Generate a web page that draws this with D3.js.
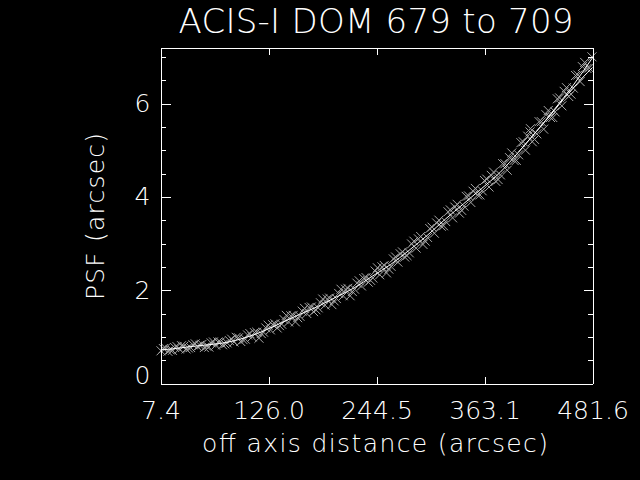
<!DOCTYPE html>
<html><head><meta charset="utf-8">
<script src="https://cdn.jsdelivr.net/npm/d3@7"></script>
<style>html,body{margin:0;padding:0;background:#000;} svg{display:block;}</style>
</head><body>
<script>
// ---- data ----
const titleText = "ACIS-I DOM 679 to 709";
const xLabel = "off axis distance (arcsec)";
const yLabel = "PSF (arcsec)";
const xTicks = [7.4, 126.0, 244.5, 363.1, 481.6];
const yTicks = [0, 2, 4, 6];
const yMinor = [0.5, 1, 1.5, 2.5, 3, 3.5, 4.5, 5, 5.5, 6.5, 7];

const ptX = [8,13,18,23,28,33,38,43,48,53,58,63,68,73,78,83,88,93,98,103,108,113,118,123,128,133,138,143,148,153,158,163,168,173,178,183,188,193,198,203,208,213,218,223,228,233,238,243,248,253,258,263,268,273,278,283,288,293,298,303,308,313,318,323,328,333,338,343,348,353,358,363,368,373,378,383,388,393,398,403,408,413,418,423,428,433,438,443,448,453,458,463,468,473,478];
const ptY = [0.70,0.76,0.72,0.77,0.74,0.80,0.76,0.83,0.79,0.84,0.80,0.87,0.82,0.89,0.85,0.92,0.89,0.98,0.94,1.04,1.00,1.10,1.07,1.19,1.15,1.28,1.24,1.37,1.32,1.46,1.41,1.55,1.50,1.64,1.58,1.73,1.68,1.83,1.77,1.93,1.88,2.04,1.97,2.15,2.09,2.27,2.21,2.41,2.33,2.53,2.45,2.67,2.60,2.82,2.74,2.99,2.90,3.15,3.05,3.32,3.22,3.50,3.38,3.68,3.55,3.84,3.71,4.01,3.88,4.18,4.04,4.35,4.21,4.53,4.37,4.71,4.57,4.94,4.78,5.16,5.00,5.39,5.23,5.61,5.45,5.85,5.70,6.10,5.95,6.34,6.20,6.60,6.47,6.88,6.76];

const ptX2 = [10.5,20.5,30.5,40.5,50.5,60.5,70.5,80.5,90.5,100.5,110.5,120.5,130.5,140.5,150.5,160.5,170.5,180.5,190.5,200.5,210.5,220.5,230.5,240.5,250.5,260.5,270.5,280.5,290.5,300.5,310.5,320.5,330.5,340.5,350.5,360.5,370.5,380.5,390.5,400.5,410.5,420.5,430.5,440.5,450.5,460.5,470.5,413.5,481.0];
const ptY2 = [0.75,0.71,0.81,0.77,0.82,0.78,0.89,0.87,0.99,0.95,1.09,1.10,1.26,1.27,1.45,1.44,1.63,1.62,1.81,1.82,2.02,2.02,2.25,2.26,2.50,2.51,2.78,2.80,3.10,3.13,3.44,3.47,3.78,3.80,4.12,4.13,4.46,4.47,4.84,4.90,5.30,5.35,5.76,5.82,6.26,6.33,6.79,5.46,7.00];

const ptX3 = [15.5,25.5,35.5,45.5,55.5,65.5,75.5,85.5,95.5,105.5,115.5,125.5,135.5,145.5,155.5,165.5,175.5,185.5,195.5,205.5,215.5,225.5,235.5,245.5,255.5,265.5,275.5,285.5,295.5,305.5,315.5,325.5,335.5,345.5,355.5,365.5,375.5,385.5,395.5,405.5,415.5,425.5,435.5,445.5,455.5,465.5,475.5];
const ptY3 = [0.69,0.79,0.74,0.85,0.77,0.89,0.83,0.95,0.90,1.07,0.97,1.25,1.19,1.46,1.32,1.61,1.54,1.81,1.69,2.02,1.88,2.20,2.17,2.48,2.37,2.71,2.71,3.05,2.98,3.35,3.37,3.72,3.65,4.02,4.04,4.38,4.33,4.71,4.78,5.18,5.18,5.61,5.70,6.12,6.15,6.61,6.75];

const fitX = [7.4,20,40,60,80,100,120,140,160,180,200,220,240,260,280,300,320,340,360,380,400,420,440,460,481.6];
const fitY = [0.72,0.74,0.79,0.83,0.88,0.98,1.12,1.30,1.48,1.65,1.85,2.05,2.30,2.55,2.85,3.17,3.52,3.85,4.18,4.52,4.95,5.40,5.88,6.38,6.98];
const fit2X = [400,420,440,450,460,470,481.6];
const fit2Y = [4.95,5.40,5.86,6.10,6.32,6.54,6.77];

// ---- chart ----
const W = 640, H = 480;
const font = "'DejaVu Sans', sans-serif";
const svg = d3.select("body").append("svg").attr("width", W).attr("height", H);
svg.append("rect").attr("width", W).attr("height", H).attr("fill", "#000");

const x = d3.scaleLinear().domain([7.4, 481.6]).range([160.5, 592.5]);
const y = d3.scaleLinear().domain([0, 7.2]).range([383.5, 47.5]);

// markers
const pts = ptX.map((v, i) => [v, ptY[i]])
  .concat(ptX2.map((v, i) => [v, ptY2[i]]))
  .concat(ptX3.map((v, i) => [v, ptY3[i]]));
const r = 4.5;
svg.append("g").selectAll("path").data(pts).join("path")
  .attr("d", d => { const cx = x(d[0]), cy = y(d[1]);
    return `M${cx-r},${cy-r}L${cx+r},${cy+r}M${cx-r},${cy+r}L${cx+r},${cy-r}`; })
  .attr("stroke", "#a8a8a8").attr("stroke-width", 1).attr("fill", "none");

// fit lines
const line = d3.line().x(d => x(d[0])).y(d => y(d[1])).curve(d3.curveMonotoneX);
svg.append("path").datum(fitX.map((v, i) => [v, fitY[i]])).attr("d", line)
  .attr("fill", "none").attr("stroke", "#fff").attr("stroke-width", 1);
svg.append("path").datum(fit2X.map((v, i) => [v, fit2Y[i]])).attr("d", line)
  .attr("fill", "none").attr("stroke", "#fff").attr("stroke-width", 1);

function styleAxis(g) {
  g.attr("shape-rendering", "crispEdges");
  g.select(".domain").attr("stroke", "#fff");
  g.selectAll(".tick line").attr("stroke", "#fff");
  g.selectAll("text").attr("fill", "#fff").style("font-family", font)
    .style("font-size", "25px").style("font-weight", "200");
}

// bottom
svg.append("g").attr("transform", `translate(0,${y(0)})`)
  .call(d3.axisBottom(x).tickValues(xTicks).tickFormat(d3.format(".1f"))
    .tickSizeInner(-7).tickSizeOuter(0).tickPadding(18))
  .call(styleAxis);
// top
svg.append("g").attr("transform", `translate(0,${y(7.2)})`)
  .call(d3.axisTop(x).tickValues(xTicks).tickFormat("").tickSizeInner(-7).tickSizeOuter(0))
  .call(styleAxis);
// left
svg.append("g").attr("transform", `translate(${x(7.4)},0)`)
  .call(d3.axisLeft(y).tickValues(yTicks).tickFormat(d3.format("d"))
    .tickSizeInner(-10).tickSizeOuter(0).tickPadding(10))
  .call(styleAxis)
  .call(g => g.selectAll(".tick text").filter(d => d === 0).attr("y", -8));
svg.append("g").attr("transform", `translate(${x(7.4)},0)`)
  .call(d3.axisLeft(y).tickValues(yMinor).tickFormat("").tickSizeInner(-5).tickSizeOuter(0))
  .call(styleAxis);
// right
svg.append("g").attr("transform", `translate(${x(481.6)},0)`)
  .call(d3.axisRight(y).tickValues(yTicks).tickFormat("").tickSizeInner(-9).tickSizeOuter(0))
  .call(styleAxis);
svg.append("g").attr("transform", `translate(${x(481.6)},0)`)
  .call(d3.axisRight(y).tickValues(yMinor).tickFormat("").tickSizeInner(-5).tickSizeOuter(0))
  .call(styleAxis);

// titles
svg.append("text").attr("x", 376).attr("y", 33).attr("text-anchor", "middle")
  .attr("textLength", 395).attr("lengthAdjust", "spacing")
  .attr("fill", "#fff").style("font-family", font).style("font-size", "34px").style("font-weight", "200")
  .text(titleText);
svg.append("text").attr("x", 375).attr("y", 452).attr("text-anchor", "middle")
  .attr("textLength", 346).attr("lengthAdjust", "spacing")
  .attr("fill", "#fff").style("font-family", font).style("font-size", "25px").style("font-weight", "200")
  .text(xLabel);
svg.append("text").attr("transform", "translate(103.5,216.5) rotate(-90)").attr("text-anchor", "middle")
  .attr("textLength", 167).attr("lengthAdjust", "spacing")
  .attr("fill", "#fff").style("font-family", font).style("font-size", "25px").style("font-weight", "200")
  .text(yLabel);
</script>
</body></html>
